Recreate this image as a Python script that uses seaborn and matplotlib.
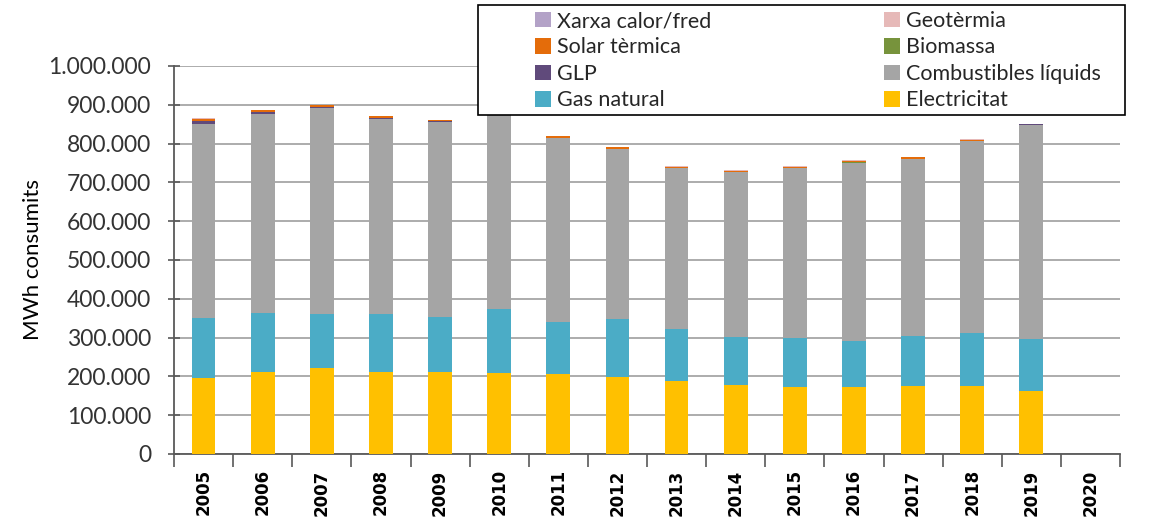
import numpy as np
import pandas as pd
import matplotlib
matplotlib.use("Agg")
import matplotlib.pyplot as plt
import matplotlib.ticker as mticker
from matplotlib.patches import Patch, Rectangle
import seaborn as sns

years = ["2005", "2006", "2007", "2008", "2009", "2010", "2011", "2012",
         "2013", "2014", "2015", "2016", "2017", "2018", "2019", "2020"]

electricitat = [195000, 212000, 222000, 212000, 212000, 209000, 205000, 198500,
                189000, 178600, 172000, 172000, 175300, 175300, 162000, 0]
gas_natural = [156300, 152200, 138800, 148800, 141900, 164700, 136000, 148600,
               132300, 122900, 126100, 120000, 129600, 136600, 133600, 0]
combustibles_liquids = [499200, 512800, 530200, 501800, 502500, 501300, 472600, 438200,
                        415800, 425300, 439000, 458800, 454600, 494800, 552300, 0]
glp = [8000, 5500, 4000, 3500, 1000, 1500, 1000, 500,
       300, 300, 300, 300, 300, 0, 2000, 0]
biomassa = [0, 0, 0, 0, 0, 0, 0, 0,
            0, 0, 0, 500, 1000, 0, 0, 0]
solar_termica = [5000, 4000, 4000, 4500, 3700, 4000, 4500, 4500,
                 3500, 3500, 3500, 4000, 3500, 3500, 300, 0]
geotermia = [1500, 900, 500, 500, 500, 500, 500, 900,
             1400, 1400, 1400, 1400, 1200, 1500, 0, 0]
xarxa_calor_fred = [0, 0, 0, 0, 0, 0, 0, 0,
                    0, 0, 0, 0, 0, 0, 300, 0]

series = [
    ("Electricitat", electricitat, "#FFC000"),
    ("Gas natural", gas_natural, "#4BACC6"),
    ("Combustibles líquids", combustibles_liquids, "#A5A5A5"),
    ("GLP", glp, "#604A7B"),
    ("Biomassa", biomassa, "#77933C"),
    ("Solar tèrmica", solar_termica, "#E46C0A"),
    ("Geotèrmia", geotermia, "#E6B9B8"),
    ("Xarxa calor/fred", xarxa_calor_fred, "#B3A2C7"),
]

sns.set_theme(style="white")
plt.rcParams["font.family"] = ["Lato", "DejaVu Sans"]

fig = plt.figure(figsize=(11.64, 5.27), dpi=100)
ax = fig.add_axes([174 / 1164, 1 - 454 / 527, (1120 - 174) / 1164, (454 - 66) / 527])

cum = np.zeros(len(years))
cums = []
for name, vals, col in series:
    cum = cum + np.array(vals, dtype=float)
    cums.append((name, cum.copy(), col))

# draw cumulative totals from top layer down
for name, c, col in reversed(cums):
    df = pd.DataFrame({"year": years, "value": c})
    sns.barplot(data=df, x="year", y="value", order=years, color=col,
                width=0.4, linewidth=0, saturation=1, ax=ax, zorder=3)

ax.set_ylim(0, 1000000)
ax.set_xlim(-0.5, 15.5)
ax.yaxis.set_major_locator(mticker.MultipleLocator(100000))
ax.yaxis.set_major_formatter(mticker.FuncFormatter(lambda v, p: f"{int(round(v)):,}".replace(",", ".")))
ax.grid(axis="y", color="#A6A6A6", linewidth=1.3, zorder=0)
ax.grid(axis="x", visible=False)
ax.set_axisbelow(True)

for s in ["top", "right"]:
    ax.spines[s].set_visible(False)
ax.spines["left"].set_color("#595959")
ax.spines["bottom"].set_color("#595959")
ax.spines["left"].set_linewidth(1.3)
ax.spines["bottom"].set_linewidth(1.3)

ax.tick_params(axis="y", which="major", direction="inout", length=9, width=1.2,
               color="#595959", labelsize=16.5, labelcolor="#333333", pad=12, left=True)
ax.set_xticks(range(len(years)))
ax.set_xticklabels(years, rotation=90, fontsize=12, fontweight="bold",
                   family="DejaVu Sans", color="black")
ax.tick_params(axis="x", which="major", length=0, pad=11, bottom=False)
ax.set_xticks(np.arange(-0.5, 16, 1), minor=True)
ax.tick_params(axis="x", which="minor", length=9, width=1.2, color="#595959",
               direction="out", bottom=True)

ax.set_xlabel("")
ax.set_ylabel("MWh consumits", fontsize=16, color="black", labelpad=4)

# legend box
rect = Rectangle((478 / 1164, 1 - 115 / 527), (1125 - 478) / 1164, (115 - 5) / 527,
                 transform=fig.transFigure, facecolor="white", edgecolor="black",
                 linewidth=1.2, zorder=4)
fig.patches.append(rect)

colmap = {n: c for n, _, c in series}
col1 = ["Xarxa calor/fred", "Solar tèrmica", "GLP", "Gas natural"]
col2 = ["Geotèrmia", "Biomassa", "Combustibles líquids", "Electricitat"]
for names, xpx in [(col1, 535), (col2, 884)]:
    handles = [Patch(facecolor=colmap[n], edgecolor="none") for n in names]
    leg = fig.legend(handles, names, loc="upper left",
                     bbox_to_anchor=(xpx / 1164, 1 - 11 / 527),
                     frameon=False, fontsize=15.5, handlelength=0.75, handleheight=0.75,
                     handletextpad=0.25, labelspacing=0.3, borderpad=0,
                     borderaxespad=0)
    leg.set_zorder(5)

fig.savefig("out.png", dpi=100)
